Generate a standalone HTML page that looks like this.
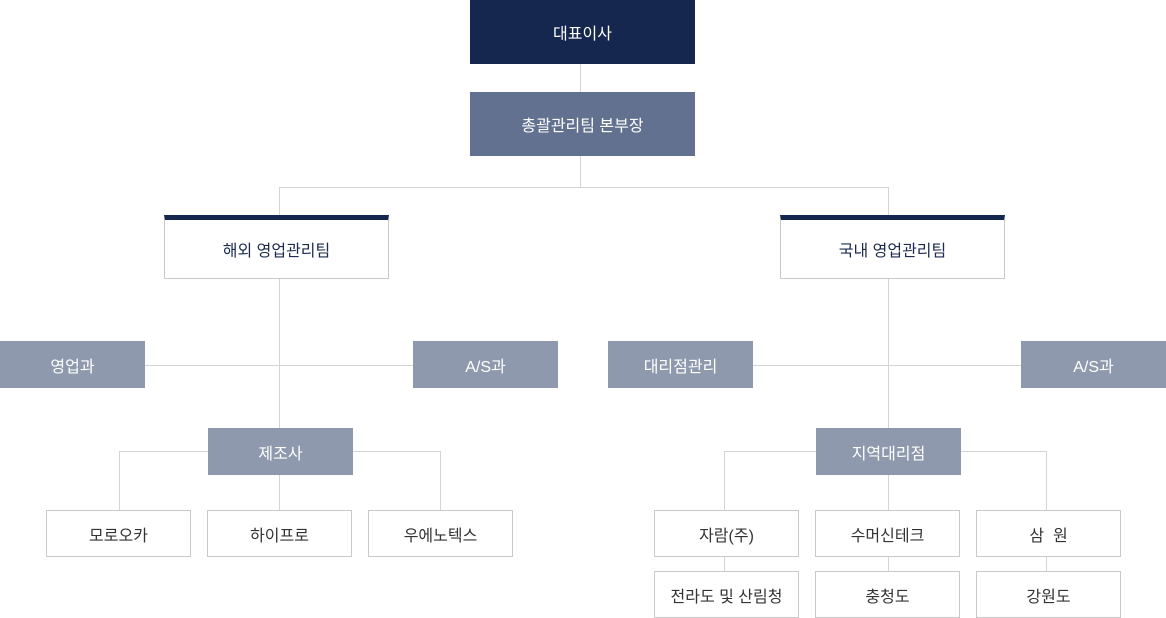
<!DOCTYPE html>
<html><head><meta charset="utf-8"><style>
html,body{margin:0;padding:0;background:#fff;}
body{width:1166px;height:618px;position:relative;overflow:hidden;font-family:"Liberation Sans","Noto Sans CJK KR",sans-serif;font-size:16px;}
.b{position:absolute;box-sizing:border-box;display:flex;align-items:center;justify-content:center;white-space:nowrap;}
.navy{background:#15274f;color:#fff;}
.mid{background:#627190;color:#fff;}
.lt{background:#8e99ad;color:#fff;}
.w2{background:#fff;border:1px solid #c9c9c9;border-top:5px solid #15274f;color:#1b2a4e;padding-bottom:0;}
.w{background:#fff;border:1px solid #c9c9c9;color:#333;}
.h{position:absolute;height:1px;background:#d4d4d4;}
.v{position:absolute;width:1px;background:#d4d4d4;}
</style></head><body>
<!-- lines -->
<div class="v" style="left:580px;top:64px;height:28px"></div>
<div class="v" style="left:580px;top:156px;height:31px"></div>
<div class="h" style="left:279px;top:187px;width:610px"></div>
<div class="v" style="left:279px;top:187px;height:28px"></div>
<div class="v" style="left:888px;top:187px;height:28px"></div>
<div class="v" style="left:279px;top:278px;height:150px"></div>
<div class="v" style="left:888px;top:278px;height:150px"></div>
<div class="h" style="left:145px;top:365px;width:268px"></div>
<div class="h" style="left:753px;top:365px;width:268px"></div>
<div class="h" style="left:119px;top:451px;width:322px"></div>
<div class="h" style="left:724px;top:451px;width:323px"></div>
<div class="v" style="left:119px;top:451px;height:59px"></div>
<div class="v" style="left:440px;top:451px;height:59px"></div>
<div class="v" style="left:279px;top:475px;height:35px"></div>
<div class="v" style="left:724px;top:451px;height:59px"></div>
<div class="v" style="left:1046px;top:451px;height:59px"></div>
<div class="v" style="left:888px;top:475px;height:35px"></div>
<div class="v" style="left:724px;top:556px;height:15px"></div>
<div class="v" style="left:888px;top:556px;height:15px"></div>
<div class="v" style="left:1046px;top:556px;height:15px"></div>
<!-- boxes -->
<div class="b navy" style="left:470px;top:0;width:225px;height:64px">대표이사</div>
<div class="b mid" style="left:470px;top:92px;width:225px;height:64px">총괄관리팀 본부장</div>
<div class="b w2" style="left:164px;top:215px;width:225px;height:64px">해외 영업관리팀</div>
<div class="b w2" style="left:780px;top:215px;width:225px;height:64px">국내 영업관리팀</div>
<div class="b lt" style="left:0;top:341px;width:145px;height:47px">영업과</div>
<div class="b lt" style="left:413px;top:341px;width:145px;height:47px">A/S과</div>
<div class="b lt" style="left:608px;top:341px;width:145px;height:47px">대리점관리</div>
<div class="b lt" style="left:1021px;top:341px;width:145px;height:47px">A/S과</div>
<div class="b lt" style="left:208px;top:428px;width:145px;height:47px">제조사</div>
<div class="b lt" style="left:816px;top:428px;width:145px;height:47px">지역대리점</div>
<div class="b w" style="left:46px;top:510px;width:145px;height:47px">모로오카</div>
<div class="b w" style="left:207px;top:510px;width:145px;height:47px">하이프로</div>
<div class="b w" style="left:368px;top:510px;width:145px;height:47px">우에노텍스</div>
<div class="b w" style="left:654px;top:510px;width:145px;height:47px">자람(주)</div>
<div class="b w" style="left:815px;top:510px;width:145px;height:47px">수머신테크</div>
<div class="b w" style="left:976px;top:510px;width:145px;height:47px">삼&nbsp;&nbsp;원</div>
<div class="b w" style="left:654px;top:571px;width:145px;height:47px">전라도 및 산림청</div>
<div class="b w" style="left:815px;top:571px;width:145px;height:47px">충청도</div>
<div class="b w" style="left:976px;top:571px;width:145px;height:47px">강원도</div>
</body></html>
